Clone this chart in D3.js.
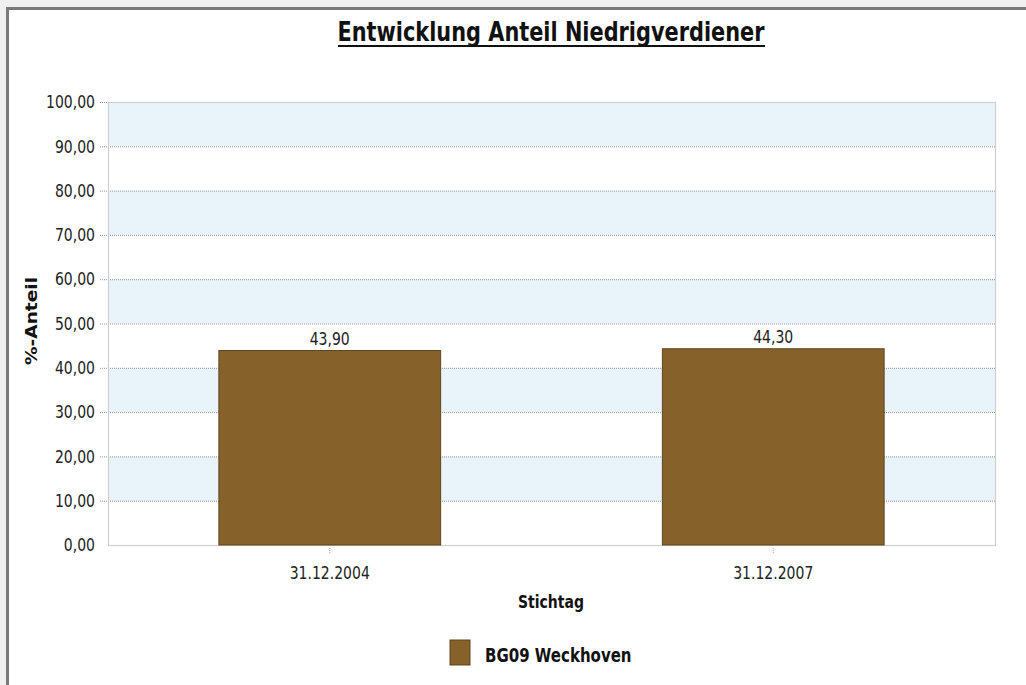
<!DOCTYPE html>
<html><head><meta charset="utf-8">
<script src="https://cdn.jsdelivr.net/npm/d3@7/dist/d3.min.js"></script>
<style>body{margin:0;background:#f0f0f0;}svg{display:block;}</style>
</head><body>
<svg id="c" width="1026" height="685"></svg>
<script>
const categories = ["31.12.2004", "31.12.2007"];
const values = [43.90, 44.30];
const yTicks = [0,10,20,30,40,50,60,70,80,90,100];
const seriesName = "BG09 Weckhoven";
const title = "Entwicklung Anteil Niedrigverdiener";
const xTitle = "Stichtag";
const yTitle = "%-Anteil";

const svg = d3.select("#c");
const fmt = v => d3.format(".2f")(v).replace(".", ",");
const font = "'DejaVu Sans', Verdana, sans-serif";

// make text taller but same width (reference glyphs are vertically stretched)
function tall(sel, size, factor){
  sel.attr("font-size", size*factor).each(function(){
    const w = this.getComputedTextLength();
    d3.select(this).attr("textLength", w/factor).attr("lengthAdjust","spacingAndGlyphs");
  });
}

// frame
svg.append("rect").attr("x",7.5).attr("y",8.5).attr("width",1030).attr("height",690)
  .attr("fill","#fff").attr("stroke","#7a7a7a").attr("stroke-width",3);

const L=108, R=995, T=102, B=545;
const x = d3.scaleBand().domain(categories).range([L,R]);
const y = d3.scaleLinear().domain([0,100]).range([B,T]);

// bands
const bands = yTicks.slice(0,-1).map((t,i)=>({a:t,b:yTicks[i+1],i}));
svg.append("g").selectAll("rect").data(bands).join("rect")
  .attr("x",L).attr("width",R-L)
  .attr("y",d=>y(d.b)).attr("height",d=>y(d.a)-y(d.b))
  .attr("fill",d=>d.i%2===1?"#e8f4f9":"#ffffff");

// gridlines
svg.append("g").selectAll("line").data(yTicks.filter(t=>t>0)).join("line")
  .attr("x1",100).attr("x2",R).attr("y1",d=>y(d)+0.5).attr("y2",d=>y(d)+0.5)
  .attr("stroke","#909090").attr("stroke-width",1).attr("stroke-dasharray","1,1");

// plot border
svg.append("rect").attr("x",L+0.5).attr("y",T+0.5).attr("width",R-L).attr("height",B-T)
  .attr("fill","none").attr("stroke","#cfcfcf").attr("stroke-width",1.2);

// y axis labels
const yAxis = d3.axisLeft(y).tickValues(yTicks).tickFormat(fmt).tickSize(0).tickPadding(13);
const gy = svg.append("g").attr("transform",`translate(${L},0)`).call(yAxis);
gy.select(".domain").remove();
gy.selectAll("text").attr("font-family",font).attr("fill","#222").call(tall,14,1.28);

// x axis
const xAxis = d3.axisBottom(x).tickSize(0).tickPadding(21);
const gx = svg.append("g").attr("transform",`translate(0,${B})`).call(xAxis);
gx.select(".domain").remove();
gx.selectAll("text").attr("font-family",font).attr("fill","#222").call(tall,14,1.28);
svg.append("g").selectAll("line").data(categories).join("line")
  .attr("x1",d=>x(d)+x.bandwidth()/2).attr("x2",d=>x(d)+x.bandwidth()/2)
  .attr("y1",B+3).attr("y2",B+9).attr("stroke","#999").attr("stroke-dasharray","1,1");

// bars
const bw = x.bandwidth()/2;
svg.append("g").selectAll("rect").data(values).join("rect")
  .attr("x",(d,i)=>x(categories[i])+x.bandwidth()/2-bw/2)
  .attr("width",bw)
  .attr("y",d=>y(d)).attr("height",d=>B-y(d))
  .attr("fill","#86622a").attr("stroke","#5e4520").attr("stroke-width",1);

svg.append("g").selectAll("text").data(values).join("text")
  .attr("x",(d,i)=>x(categories[i])+x.bandwidth()/2)
  .attr("y",d=>y(d)-6)
  .attr("text-anchor","middle").attr("font-family",font).attr("fill","#222")
  .text(d=>fmt(d)).call(tall,14,1.28);

// title
svg.append("text").attr("x",551).attr("y",41).attr("text-anchor","middle")
  .attr("font-family","'Liberation Sans Narrow','DejaVu Sans Condensed',sans-serif")
  .attr("font-weight","bold").attr("font-size",27).attr("fill","#111")
  .attr("textLength",427).attr("lengthAdjust","spacingAndGlyphs")
  .text(title);
svg.append("line").attr("x1",338).attr("x2",765).attr("y1",46).attr("y2",46)
  .attr("stroke","#111").attr("stroke-width",2);

// axis titles
svg.append("text").attr("x",551).attr("y",608).attr("text-anchor","middle")
  .attr("font-family",font).attr("font-weight","bold").attr("fill","#111")
  .text(xTitle).call(tall,14,1.28);
svg.append("text").attr("transform","translate(37,321) rotate(-90)").attr("text-anchor","middle")
  .attr("font-family",font).attr("font-weight","bold").attr("font-size",15).attr("fill","#111")
  .attr("textLength",88).attr("lengthAdjust","spacingAndGlyphs")
  .text(yTitle);

// legend
svg.append("rect").attr("x",450).attr("y",640).attr("width",20).attr("height",25)
  .attr("fill","#86622a").attr("stroke","#5e4520");
svg.append("text").attr("x",485).attr("y",662)
  .attr("font-family",font).attr("font-weight","bold").attr("fill","#111")
  .text(seriesName).call(tall,15,1.25);
</script>
</body></html>
